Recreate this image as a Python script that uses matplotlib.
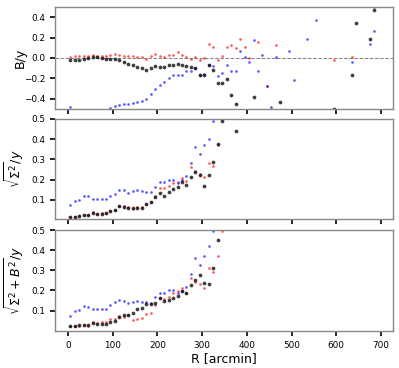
import numpy as np
import matplotlib
matplotlib.use("Agg")
import matplotlib.pyplot as plt

nan = np.nan

# radii, 5..695 arcmin in 10 arcmin bins
radius = np.arange(5, 700, 10)

def pad(vals):
    # fill the bins past the last read value with NaN
    out = np.full(len(radius), nan)
    out[:len(vals)] = vals
    return out

# B/y
b_black = pad([-0.017, -0.02, -0.02, -0.013, 0.0, 0.01, 0.007, 0.0, -0.007, -0.01,
               -0.01, -0.02, -0.043, -0.056, -0.069, -0.086, -0.096, -0.116, -0.1, -0.08,
               -0.089, -0.089, -0.073, -0.066, -0.06, -0.073, -0.08, -0.086, -0.1, -0.165,
               -0.165, -0.066, -0.122, -0.248, -0.248, -0.208, -0.364, -0.453, nan, nan,
               nan, -0.387, nan, nan, nan, nan, nan, -0.43, nan, nan,
               nan, nan, nan, nan, nan, nan, nan, nan, nan, -0.497,
               nan, nan, nan, -0.169, 0.344, nan, nan, 0.19, 0.47])
b_red = pad([0.013, 0.017, 0.017, 0.017, 0.02, 0.03, 0.023, 0.023, 0.023, 0.03,
             0.04, 0.033, 0.023, 0.023, 0.017, 0.007, 0.01, -0.007, 0.017, 0.036,
             0.017, 0.01, 0.026, 0.033, 0.063, 0.03, 0.01, -0.01, 0.007, -0.023,
             0.0, 0.136, 0.109, -0.023, 0.023, 0.112, 0.129, 0.096, 0.185, 0.106,
             0.0, nan, 0.155, nan, -0.274, -0.497, 0.126, nan, nan, nan,
             nan, nan, nan, nan, nan, nan, nan, nan, nan, -0.023,
             nan, nan, nan, 0.007, nan, nan, nan, nan, 0.497])
b_blue = pad([-0.48, nan, nan, nan, nan, nan, nan, nan, nan, -0.49,
              -0.473, -0.463, -0.456, -0.45, -0.44, -0.43, -0.42, -0.4, -0.354, -0.3,
              -0.268, -0.235, -0.195, -0.172, -0.165, -0.165, -0.126, -0.126, -0.1, -0.165,
              -0.16, -0.066, -0.08, -0.18, -0.145, -0.07, -0.129, -0.129, 0.066, 0.01,
              -0.043, 0.175, -0.132, 0.03, -0.274, -0.48, 0.01, nan, nan, 0.066,
              -0.218, nan, nan, 0.188, nan, 0.373, nan, nan, nan, nan,
              nan, nan, nan, -0.036, nan, nan, nan, 0.135, 0.264])

# sqrt(Sigma^2)/y
s_black = pad([0.015, 0.015, 0.018, 0.025, 0.025, 0.036, 0.031, 0.031, 0.034, 0.043,
               0.051, 0.067, 0.064, 0.059, 0.059, 0.061, 0.061, 0.08, 0.09, 0.113,
               0.134, 0.118, 0.138, 0.154, 0.162, 0.187, 0.175, 0.213, 0.236, 0.221,
               0.17, 0.221, 0.287, 0.376, 0.487, nan, nan, 0.44])
s_red = pad([0.015, 0.015, 0.018, 0.023, 0.026, 0.041, 0.031, 0.034, 0.034, 0.043,
             0.051, 0.067, 0.067, 0.066, 0.056, 0.062, 0.064, 0.08, 0.09, 0.12,
             0.159, 0.159, 0.167, 0.185, 0.187, 0.208, 0.194, 0.26, 0.241, 0.229,
             0.211, 0.282, 0.269, 0.372, 0.498])
s_blue = pad([0.072, 0.093, 0.098, 0.118, 0.118, 0.105, 0.105, 0.105, 0.105, 0.121,
              0.128, 0.149, 0.148, 0.133, 0.141, 0.146, 0.143, 0.138, 0.138, 0.162,
              0.189, 0.189, 0.197, 0.197, 0.185, 0.2, 0.216, 0.282, 0.361, 0.326,
              0.369, 0.4, 0.489])

# sqrt(Sigma^2 + B^2)/y
t_black = pad([0.023, 0.023, 0.028, 0.028, 0.028, 0.04, 0.033, 0.033, 0.033, 0.044,
               0.051, 0.069, 0.077, 0.079, 0.089, 0.107, 0.113, 0.133, 0.133, 0.136,
               0.162, 0.15, 0.155, 0.165, 0.172, 0.198, 0.187, 0.229, 0.254, 0.275,
               0.238, 0.231, 0.313, 0.449])
t_red = pad([0.023, 0.023, 0.026, 0.028, 0.026, 0.043, 0.038, 0.044, 0.046, 0.058,
             0.061, 0.072, 0.071, 0.08, 0.054, 0.061, 0.066, 0.082, 0.089, 0.13,
             0.162, 0.158, 0.17, 0.187, 0.197, 0.211, 0.19, 0.26, 0.241, 0.233,
             0.211, 0.313, 0.292, 0.372, 0.497])
t_blue = pad([0.074, 0.097, 0.102, 0.121, 0.12, 0.11, 0.11, 0.11, 0.11, 0.128,
              0.141, 0.154, 0.149, 0.138, 0.143, 0.146, 0.143, 0.143, 0.136, 0.167,
              0.189, 0.189, 0.2, 0.2, 0.187, 0.198, 0.218, 0.28, 0.362, 0.326,
              0.37, 0.423, 0.497])

panels = [
    ("B/y", b_black, b_red, b_blue, (-0.5, 0.5), [-0.4, -0.2, 0.0, 0.2, 0.4]),
    (r"$\sqrt{\Sigma^2}/y$", s_black, s_red, s_blue, (0.005, 0.5), [0.1, 0.2, 0.3, 0.4, 0.5]),
    (r"$\sqrt{\Sigma^2+B^2}/y$", t_black, t_red, t_blue, (0.0, 0.5), [0.1, 0.2, 0.3, 0.4, 0.5]),
]

fig = plt.figure(figsize=(3.99, 3.68), dpi=100)
boxes = [(0.704, 0.981), (0.405, 0.677), (0.101, 0.375)]

for i, (label, yk, yr, yb, ylim, yt) in enumerate(panels):
    lo, hi = boxes[i]
    ax = fig.add_axes([0.138, lo, 0.847, hi - lo])
    if i == 0:
        ax.axhline(0, color="gray", linestyle="--", linewidth=0.7, zorder=0)
    ax.plot(radius, yr, "o", color="red", alpha=0.65, markersize=1.9, markeredgewidth=0)
    ax.plot(radius, yb, "o", color="blue", alpha=0.65, markersize=1.9, markeredgewidth=0)
    ax.plot(radius, yk, "o", color="black", alpha=0.75, markersize=2.7, markeredgewidth=0)
    ax.set_xlim(-29, 727)
    ax.set_ylim(*ylim)
    ax.set_yticks(yt)
    ax.set_xticks(range(0, 701, 100))
    ax.tick_params(labelsize=6.4, width=1.2, length=3.5, color="black")
    for s in ax.spines.values():
        s.set_color("#888888")
        s.set_linewidth(1.0)
    ax.set_ylabel(label, fontsize=9)
    ax.yaxis.set_label_coords(-0.085, 0.5)
    if i < 2:
        ax.tick_params(labelbottom=False)
    else:
        ax.set_xlabel("R [arcmin]", fontsize=9, labelpad=2)

plt.savefig("out.png", dpi=100)
